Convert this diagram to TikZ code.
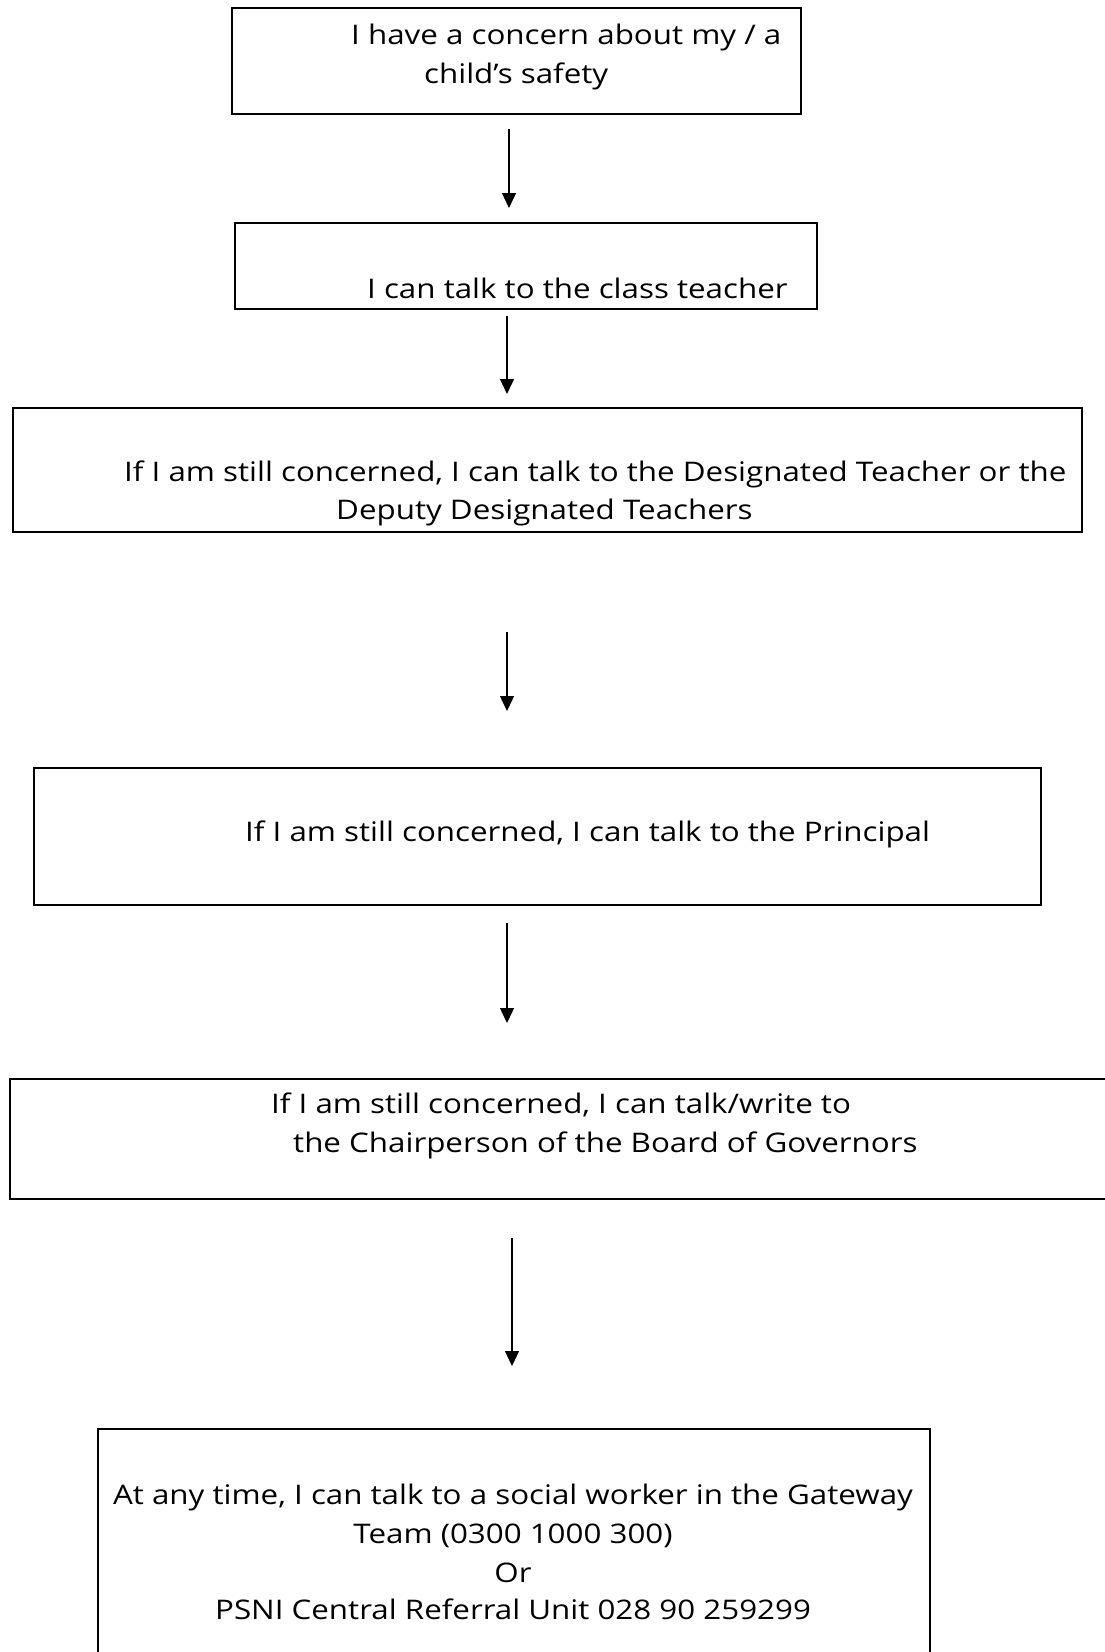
\documentclass[tikz,border=0pt]{standalone}
\usepackage{fontspec}
\setmainfont{Open Sans}[FakeStretch=1.16]
\usetikzlibrary{arrows.meta}
\begin{document}
\begin{tikzpicture}[x=1pt,y=-1pt,
  box/.style={draw=black,line width=2pt,rectangle,inner sep=0pt,fill=none},
  txt/.style={anchor=base west,inner sep=0pt,font=\fontsize{27}{32}\selectfont},
  ctxt/.style={anchor=base,inner sep=0pt,font=\fontsize{27}{32}\selectfont},
  flow/.style={line width=1.3pt,-{Triangle[length=15pt,width=14pt]}}]
\useasboundingbox[fill=white] (0,0) rectangle (1104,1652);
% boxes
\node[box,minimum width=569pt,minimum height=106pt] (b1) at (516.5,61) {};
\node[box,minimum width=582pt,minimum height=86pt] (b2) at (526,266) {};
\node[box,minimum width=1069pt,minimum height=124pt] (b3) at (547.5,470) {};
\node[box,minimum width=1007pt,minimum height=137pt] (b4) at (537.5,836.5) {};
\node[box,minimum width=1110pt,minimum height=120pt] (b5) at (565,1139) {};
\node[box,minimum width=832pt,minimum height=260pt] (b6) at (514,1559) {};
% texts
\node[txt] (t1a) at (351,44) {I have a concern about my / a};
\node[txt] (t1b) at (424,83) {child’s safety};
\node[txt] (t2) at (367,298) {I can talk to the class teacher};
\node[txt] (t3a) at (124,481) {If I am still concerned, I can talk to the Designated Teacher or the};
\node[txt] (t3b) at (336,519) {Deputy Designated Teachers};
\node[txt] (t4) at (245,841) {If I am still concerned, I can talk to the Principal};
\node[txt] (t5a) at (271,1113) {If I am still concerned, I can talk/write to};
\node[txt] (t5b) at (293,1152) {the Chairperson of the Board of Governors};
\node[ctxt] (t6a) at (513,1504) {At any time, I can talk to a social worker in the Gateway};
\node[ctxt] (t6b) at (513,1543) {Team (0300 1000 300)};
\node[ctxt] (t6c) at (513,1582) {Or};
\node[ctxt] (t6d) at (513,1619) {PSNI Central Referral Unit 028 90 259299};
% arrows
\coordinate (a1s) at (509,129); \coordinate (a1e) at (509,208);
\coordinate (a2s) at (507,316); \coordinate (a2e) at (507,394);
\coordinate (a3s) at (507,632); \coordinate (a3e) at (507,711);
\coordinate (a4s) at (507,923); \coordinate (a4e) at (507,1023);
\coordinate (a5s) at (512,1238); \coordinate (a5e) at (512,1366);
\draw[flow] (a1s) -- (a1e);
\draw[flow] (a2s) -- (a2e);
\draw[flow] (a3s) -- (a3e);
\draw[flow] (a4s) -- (a4e);
\draw[flow] (a5s) -- (a5e);
\end{tikzpicture}
\end{document}
